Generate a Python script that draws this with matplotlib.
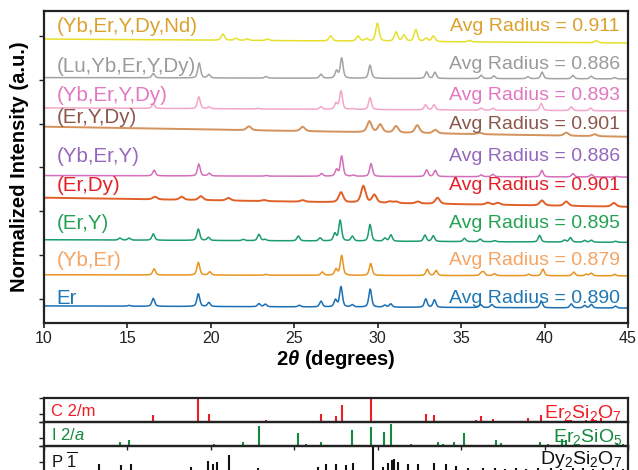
import numpy as np
import matplotlib
matplotlib.use("Agg")
import matplotlib.pyplot as plt

plt.rcParams['font.family'] = ['Liberation Sans', 'DejaVu Sans']
plt.rcParams['mathtext.fontset'] = 'custom'
plt.rcParams['mathtext.rm'] = 'Liberation Sans'
plt.rcParams['mathtext.it'] = 'Liberation Sans:italic'
plt.rcParams['mathtext.bf'] = 'Liberation Sans:bold'
plt.rcParams['mathtext.bfit'] = 'Liberation Sans:bold:italic'

# samples, bottom to top
samples = ["Er", "(Yb,Er)", "(Er,Y)", "(Er,Dy)", "(Yb,Er,Y)", "(Er,Y,Dy)",
           "(Yb,Er,Y,Dy)", "(Lu,Yb,Er,Y,Dy)", "(Yb,Er,Y,Dy,Nd)"]
avg_radius = [0.890, 0.879, 0.895, 0.901, 0.886, 0.901, 0.893, 0.886, 0.911]

# stacking offset of each pattern (background level at 10 and 45 degrees)
bg_start = [0.84, 1.55, 2.35, 3.31, 3.815, 4.93, 5.36, 6.05, 6.93]
bg_end = [0.79, 1.525, 2.29, 3.10, 3.78, 4.70, 5.29, 6.02, 6.84]

# peak positions (2theta) and heights (normalized)
er_pos = [15.1, 16.55, 19.25, 19.88, 22.88, 23.26, 25.3, 26.6, 27.47, 27.8, 28.48, 29.55,
          30.42, 30.78, 32.88, 33.4, 36.16, 36.84, 39.8, 41.6, 42.4, 42.8, 44.25]
er_hgt = [0.02, 0.18, 0.29, 0.09, 0.07, 0.06, 0.035, 0.13, 0.16, 0.46, 0.05, 0.41,
          0.045, 0.075, 0.19, 0.17, 0.07, 0.07, 0.15, 0.09, 0.055, 0.08, 0.045]

ybe_pos = [16.6, 19.25, 19.93, 23.3, 26.68, 27.5, 27.84, 29.58, 32.97, 33.5, 36.2, 36.35,
           37.0, 39.04, 39.9, 41.75, 42.5, 42.8, 44.2]
ybe_hgt = [0.14, 0.29, 0.075, 0.02, 0.075, 0.14, 0.45, 0.27, 0.14, 0.115, 0.06, 0.075,
           0.045, 0.035, 0.15, 0.085, 0.035, 0.06, 0.035]

ery_pos = [14.55, 15.1, 16.55, 19.25, 19.85, 21.95, 22.88, 23.24, 25.24, 26.55, 27.43, 27.75,
           28.48, 29.54, 30.43, 30.79, 32.83, 33.33, 35.2, 36.14, 37.0, 39.7, 41.2, 41.55,
           42.4, 42.8, 44.25]
ery_hgt = [0.045, 0.045, 0.145, 0.26, 0.07, 0.03, 0.145, 0.03, 0.11, 0.07, 0.17, 0.47,
           0.11, 0.38, 0.07, 0.145, 0.145, 0.13, 0.075, 0.06, 0.025, 0.15, 0.045, 0.1,
           0.04, 0.045, 0.025]

erdy_pos = [16.65, 18.25, 19.4, 21.05, 23.2, 25.5, 27.8, 29.14, 29.8, 30.73, 31.1, 32.4,
            33.58, 36.6, 37.2, 39.84, 41.3, 44.15]
erdy_hgt = [0.06, 0.07, 0.09, 0.06, 0.025, 0.035, 0.23, 0.38, 0.18, 0.035, 0.035, 0.045,
            0.14, 0.045, 0.045, 0.115, 0.1, 0.085]

ybey_pos = [16.6, 19.28, 19.9, 23.3, 26.64, 27.53, 27.84, 28.54, 29.6, 32.93, 33.45, 36.2,
            36.9, 39.84, 41.7, 42.8, 44.3]
ybey_hgt = [0.13, 0.27, 0.06, 0.015, 0.06, 0.15, 0.46, 0.025, 0.29, 0.15, 0.14, 0.04,
            0.055, 0.145, 0.075, 0.055, 0.015]

erydy_pos = [22.28, 25.5, 29.5, 30.15, 31.1, 32.37, 33.45, 36.1, 41.3, 43.0]
erydy_hgt = [0.09, 0.1, 0.25, 0.18, 0.15, 0.18, 0.08, 0.035, 0.07, 0.045]

ybeydy_pos = [16.55, 19.28, 19.88, 22.84, 26.6, 27.5, 27.8, 28.48, 29.54, 32.87, 33.37,
              36.2, 36.9, 39.8, 41.6, 42.75]
ybeydy_hgt = [0.1, 0.27, 0.04, 0.015, 0.06, 0.14, 0.42, 0.015, 0.27, 0.115, 0.115,
              0.045, 0.045, 0.16, 0.085, 0.06]

lu_pos = [16.55, 19.3, 19.88, 23.3, 26.6, 27.53, 27.84, 29.54, 32.93, 33.43, 36.2, 36.96,
          39.0, 39.85, 41.7, 42.8, 44.2]
lu_hgt = [0.1, 0.34, 0.075, 0.035, 0.09, 0.17, 0.46, 0.3, 0.15, 0.14, 0.075, 0.06,
          0.045, 0.15, 0.075, 0.06, 0.03]

nd_pos = [20.72, 21.5, 22.18, 23.4, 27.18, 28.82, 29.32, 29.98, 31.1, 31.58, 32.28, 32.9,
          33.34, 35.5, 43.1]
nd_hgt = [0.14, 0.045, 0.035, 0.035, 0.115, 0.115, 0.055, 0.41, 0.21, 0.14, 0.27, 0.075,
          0.125, 0.035, 0.05]

peak_pos = [er_pos, ybe_pos, ery_pos, erdy_pos, ybey_pos, erydy_pos, ybeydy_pos, lu_pos, nd_pos]
peak_hgt = [er_hgt, ybe_hgt, ery_hgt, erdy_hgt, ybey_hgt, erydy_hgt, ybeydy_hgt, lu_hgt, nd_hgt]
peak_fwhm = [0.2, 0.2, 0.2, 0.32, 0.2, 0.32, 0.2, 0.2, 0.24]

# reference stick patterns
er2si2o7_pos = [16.53, 19.2, 19.9, 23.3, 26.6, 27.5, 27.84, 29.57, 32.9, 33.4, 35.9, 36.2,
                36.9, 39.0, 39.8, 41.6, 42.5, 42.9, 43.4]
er2si2o7_int = [0.3, 1.0, 0.35, 0.08, 0.35, 0.25, 0.7, 0.95, 0.35, 0.28, 0.1, 0.25,
                0.12, 0.18, 0.28, 0.1, 0.1, 0.12, 0.15]

er2sio5_pos = [14.55, 15.1, 15.85, 17.5, 20.2, 21.9, 22.86, 24.4, 25.2, 25.7, 26.6, 28.45,
               29.57, 30.39, 30.79, 32.0, 33.6, 33.9, 34.55, 35.2, 35.7, 37.06, 37.36, 39.7,
               40.2, 41.05, 41.3, 44.35, 44.7]
er2sio5_int = [0.17, 0.25, 0.05, 0.04, 0.07, 0.15, 0.85, 0.05, 0.55, 0.07, 0.15, 0.65,
               0.8, 0.6, 0.9, 0.1, 0.15, 0.08, 0.15, 0.55, 0.05, 0.25, 0.12, 0.15,
               0.08, 0.3, 0.25, 0.12, 0.08]

dy2si2o7_pos = [13.3, 14.6, 15.2, 18.8, 19.8, 20.1, 20.35, 21.1, 22.8, 26.4, 26.9, 27.5,
                28.1, 28.5, 29.73, 30.3, 30.6, 30.85, 31.0, 31.2, 31.8, 32.4, 33.4, 34.1,
                34.7, 35.4, 36.3, 37.0, 37.6, 38.3, 38.9, 39.6, 40.4, 41.0, 41.7, 42.3,
                42.9, 43.5, 44.1, 44.7]
dy2si2o7_int = [0.63, 0.6, 0.63, 0.56, 0.69, 0.62, 0.67, 0.81, 0.54, 0.56, 0.63, 0.62,
                0.6, 0.65, 1.0, 0.56, 0.64, 0.7, 0.72, 0.67, 0.63, 0.63, 0.64, 0.62,
                0.59, 0.55, 0.54, 0.55, 0.53, 0.54, 0.53, 0.55, 0.54, 0.53, 0.55, 0.54,
                0.53, 0.55, 0.54, 0.53]

line_colors = ["#1a6fb5", "#e8951f", "#1b9e6b", "#e06028", "#d46fbb", "#d4925c",
               "#f2a7c9", "#a3a3a3", "#e6e02c"]
label_colors = ["#1f77b4", "#f5a463", "#24a253", "#e41f26", "#9467bd", "#8c564b",
                "#e377c2", "#9a9a9a", "#dba12b"]
label_y_left = [1.02, 1.87, 2.72, 3.59, 4.24, 5.13, 5.65, 6.30, 7.21]
label_y_right = [1.02, 1.87, 2.72, 3.59, 4.24, 4.97, 5.65, 6.34, 7.21]

two_theta = np.linspace(10, 45, 3501)


def pattern(x, pos, hgt, fwhm, y0, y1):
    y = y0 + (y1 - y0) * (x - x[0]) / (x[-1] - x[0])
    g = fwhm / 2.0
    for p, h in zip(pos, hgt):
        lor = g ** 2 / ((x - p) ** 2 + g ** 2)
        gau = np.exp(-np.log(2) * ((x - p) / g) ** 2)
        y = y + h * (0.5 * lor + 0.5 * gau)
    return y


W, H = 638, 470
fig = plt.figure(figsize=(W / 100, H / 100), dpi=100)
spine_c = "#222222"

ax = fig.add_axes([44 / W, 1 - 323 / H, 584 / W, 312 / H])
for i in range(len(samples)):
    y = pattern(two_theta, peak_pos[i], peak_hgt[i], peak_fwhm[i], bg_start[i], bg_end[i])
    lw = 1.4 if peak_fwhm[i] > 0.3 else 1.1
    ax.plot(two_theta, y, color=line_colors[i], lw=lw)
    ax.text(10.75, label_y_left[i], samples[i], color=label_colors[i], fontsize=14.8,
            ha='left', va='center')
    ax.text(44.5, label_y_right[i], f"Avg Radius = {avg_radius[i]:.3f}",
            color=label_colors[i], fontsize=14, ha='right', va='center')

ax.set_xlim(10, 45)
ax.set_ylim(0.45, 7.57)
ax.set_xticks(np.arange(10, 46, 5))
ax.set_yticks(np.arange(1, 8))
ax.set_yticklabels([])
ax.tick_params(axis='x', direction='out', length=3.5, width=1.2, labelsize=11.5,
               pad=2, colors=spine_c)
ax.tick_params(axis='y', direction='out', length=3.5, width=1.0, colors=spine_c)
for s in ax.spines.values():
    s.set_linewidth(1.6)
    s.set_color(spine_c)
ax.set_xlabel(r"$\mathbf{2}\mathbfit{\theta}$ (degrees)", fontsize=14.5,
              fontweight='bold', labelpad=2)
ax.set_ylabel("Normalized Intensity (a.u.)", fontsize=14.5, fontweight='bold', labelpad=4)

# reference stick patterns below
ref_pos = [er2si2o7_pos, er2sio5_pos, dy2si2o7_pos]
ref_int = [er2si2o7_int, er2sio5_int, dy2si2o7_int]
ref_colors = ["#ee1c24", "#138a3e", "#111111"]
ref_groups = ["C 2/m", r"I 2/$\mathit{a}$", r"P $\overline{1}$"]
ref_names = [r"Er$_2$Si$_2$O$_7$", r"Er$_2$SiO$_5$", r"Dy$_2$Si$_2$O$_7$"]
panel_top = [398, 422, 446]
panel_h = [24, 24, 48]
group_y = [0.42, 0.46, 0.69]
name_y = [0.17, 0.17, 0.62]

for k in range(3):
    bot = panel_top[k] + panel_h[k]
    pax = fig.add_axes([44 / W, 1 - bot / H, 584 / W, panel_h[k] / H])
    pax.set_facecolor('none')
    pax.vlines(ref_pos[k], 0, ref_int[k], color=ref_colors[k], lw=1.5)
    pax.set_xlim(10, 45)
    pax.set_ylim(0, 1)
    pax.set_xticks(np.arange(10, 46, 5))
    pax.set_xticklabels([])
    if k == 2:
        pax.set_yticks([0.667, 1.0])
        pax.tick_params(axis='x', top=True, bottom=False, direction='in', length=3,
                        width=1.0, colors=spine_c)
    else:
        pax.set_yticks([0, 1 / 3, 1])
        pax.tick_params(axis='x', length=0)
    pax.set_yticklabels([])
    pax.tick_params(axis='y', direction='out', length=3.5, width=1.0, colors=spine_c)
    for s in pax.spines.values():
        s.set_linewidth(1.6)
        s.set_color(spine_c)
    pax.text(0.012, group_y[k], ref_groups[k], transform=pax.transAxes, color=ref_colors[k],
             fontsize=12, ha='left', va='center', zorder=5)
    pax.text(0.99, name_y[k], ref_names[k], transform=pax.transAxes, color=ref_colors[k],
             fontsize=14, ha='right', va='baseline', zorder=5, clip_on=False)

fig.savefig("out.png", dpi=100)
